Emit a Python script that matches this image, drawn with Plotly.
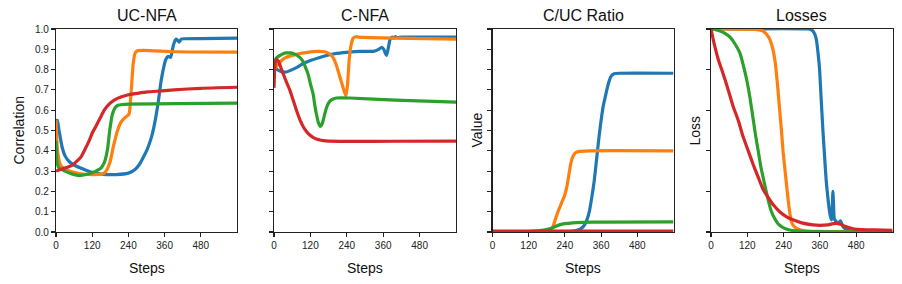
import plotly.graph_objects as go

COLORS = ["#1f77b4", "#ff7f0e", "#2ca02c", "#d62728"]
TITLES = ["UC-NFA", "C-NFA", "C/UC Ratio", "Losses"]
X_TICKS = [0, 120, 240, 360, 480]

# ---- UC-NFA ----
uc_blue_x = [0, 4, 10, 20, 30, 45, 60, 90, 116, 150, 200, 240, 260, 275, 290, 303, 315, 325, 338, 349, 364, 372, 380, 389, 397, 403, 408, 415, 425, 480, 600]
uc_blue_y = [0.55, 0.55, 0.50, 0.42, 0.375, 0.345, 0.33, 0.31, 0.295, 0.285, 0.283, 0.29, 0.305, 0.33, 0.37, 0.41, 0.46, 0.52, 0.63, 0.75, 0.85, 0.865, 0.86, 0.92, 0.95, 0.945, 0.935, 0.95, 0.952, 0.953, 0.955]
uc_orange_x = [0, 5, 15, 30, 50, 80, 120, 150, 160, 170, 180, 190, 204, 215, 226, 242, 247, 251, 256, 262, 270, 290, 400, 600]
uc_orange_y = [0.55, 0.40, 0.33, 0.31, 0.298, 0.287, 0.283, 0.285, 0.29, 0.31, 0.35, 0.42, 0.50, 0.54, 0.56, 0.58, 0.65, 0.73, 0.83, 0.88, 0.893, 0.895, 0.888, 0.886]
uc_green_x = [0, 4, 10, 30, 55, 77, 100, 120, 132, 145, 154, 162, 171, 178, 187, 195, 204, 220, 240, 400, 600]
uc_green_y = [0.45, 0.34, 0.315, 0.30, 0.285, 0.278, 0.283, 0.292, 0.30, 0.31, 0.325, 0.35, 0.41, 0.50, 0.58, 0.61, 0.623, 0.628, 0.63, 0.632, 0.635]
uc_red_x = [0, 20, 40, 55, 70, 83, 97, 110, 121, 132, 146, 160, 176, 193, 215, 237, 270, 303, 350, 391, 480, 600]
uc_red_y = [0.30, 0.31, 0.32, 0.33, 0.35, 0.37, 0.41, 0.45, 0.49, 0.52, 0.56, 0.60, 0.63, 0.65, 0.665, 0.675, 0.683, 0.69, 0.695, 0.70, 0.708, 0.713]

# ---- C-NFA ----
c_blue_x = [0, 10, 25, 40, 60, 80, 96, 120, 151, 180, 206, 240, 283, 327, 345, 355, 362, 367, 371, 376, 383, 390, 395, 400, 405, 420, 480, 600]
c_blue_y = [0.82, 0.80, 0.79, 0.788, 0.80, 0.815, 0.83, 0.845, 0.86, 0.872, 0.88, 0.885, 0.89, 0.89, 0.90, 0.91, 0.90, 0.88, 0.87, 0.90, 0.95, 0.96, 0.955, 0.962, 0.958, 0.96, 0.96, 0.96]
c_orange_x = [0, 10, 25, 40, 60, 80, 110, 140, 167, 180, 190, 198, 206, 214, 222, 230, 237, 242, 248, 254, 261, 270, 280, 400, 600]
c_orange_y = [0.80, 0.82, 0.845, 0.86, 0.87, 0.878, 0.885, 0.89, 0.888, 0.88, 0.87, 0.85, 0.82, 0.78, 0.74, 0.70, 0.67, 0.72, 0.85, 0.92, 0.955, 0.962, 0.96, 0.955, 0.95]
c_green_x = [0, 10, 20, 30, 40, 55, 70, 85, 96, 104, 112, 120, 129, 135, 140, 146, 153, 158, 163, 167, 175, 184, 195, 206, 250, 400, 600]
c_green_y = [0.84, 0.86, 0.87, 0.878, 0.882, 0.882, 0.875, 0.86, 0.84, 0.81, 0.78, 0.73, 0.68, 0.62, 0.58, 0.54, 0.52, 0.53, 0.555, 0.58, 0.62, 0.645, 0.655, 0.66, 0.66, 0.65, 0.64]
c_red_x = [0, 3, 7, 15, 25, 38, 52, 63, 74, 85, 96, 107, 118, 130, 140, 155, 170, 240, 400, 600]
c_red_y = [0.71, 0.82, 0.85, 0.84, 0.80, 0.75, 0.70, 0.65, 0.60, 0.555, 0.52, 0.495, 0.478, 0.465, 0.458, 0.452, 0.449, 0.446, 0.447, 0.448]

# ---- C/UC Ratio ----
r_blue_x = [0, 240, 270, 288, 298, 305, 313, 321, 329, 337, 343, 348, 354, 360, 367, 373, 379, 386, 392, 398, 403, 420, 600]
r_blue_y = [0.0, 0.001, 0.004, 0.012, 0.022, 0.035, 0.06, 0.10, 0.17, 0.25, 0.33, 0.40, 0.48, 0.55, 0.62, 0.66, 0.70, 0.74, 0.765, 0.775, 0.78, 0.782, 0.782]
r_orange_x = [0, 150, 180, 190, 200, 208, 217, 228, 239, 246, 253, 260, 266, 275, 288, 320, 600]
r_orange_y = [0.0, 0.001, 0.004, 0.01, 0.025, 0.06, 0.10, 0.14, 0.18, 0.22, 0.28, 0.34, 0.37, 0.39, 0.397, 0.40, 0.40]
r_green_x = [0, 100, 130, 150, 170, 190, 205, 222, 240, 266, 300, 360, 600]
r_green_y = [0.0, 0.001, 0.003, 0.006, 0.01, 0.016, 0.025, 0.035, 0.041, 0.045, 0.047, 0.049, 0.05]
r_red_x = [0, 600]
r_red_y = [0.005, 0.005]

# ---- Losses ----
l_blue_x = [0, 320, 330, 337, 343, 348, 354, 359, 364, 370, 376, 381, 387, 392, 396, 399, 401, 403, 405, 407, 409, 412, 415, 420, 425, 428, 431, 435, 440, 450, 465, 480, 600]
l_blue_y = [1.0, 1.0, 0.997, 0.99, 0.975, 0.95, 0.88, 0.80, 0.66, 0.50, 0.36, 0.25, 0.16, 0.10, 0.07, 0.06, 0.12, 0.20, 0.14, 0.07, 0.06, 0.055, 0.05, 0.045, 0.05, 0.055, 0.045, 0.03, 0.02, 0.01, 0.005, 0.003, 0.002]
l_orange_x = [0, 140, 160, 172, 183, 194, 203, 211, 219, 227, 233, 238, 245, 252, 259, 266, 273, 280, 300, 320, 600]
l_orange_y = [1.0, 0.998, 0.995, 0.99, 0.975, 0.95, 0.91, 0.85, 0.74, 0.60, 0.50, 0.40, 0.30, 0.20, 0.11, 0.05, 0.03, 0.02, 0.008, 0.004, 0.001]
l_green_x = [0, 15, 30, 45, 63, 80, 96, 107, 118, 129, 140, 148, 156, 165, 175, 184, 192, 200, 211, 222, 240, 260, 300, 600]
l_green_y = [1.0, 0.997, 0.99, 0.98, 0.96, 0.925, 0.88, 0.82, 0.75, 0.66, 0.55, 0.47, 0.40, 0.32, 0.25, 0.19, 0.14, 0.10, 0.065, 0.04, 0.02, 0.01, 0.003, 0.001]
l_red_x = [0, 10, 24, 40, 57, 73, 90, 106, 123, 140, 156, 172, 189, 208, 227, 250, 271, 300, 337, 360, 385, 400, 414, 428, 440, 455, 470, 500, 540, 600]
l_red_y = [1.0, 0.93, 0.85, 0.78, 0.70, 0.62, 0.55, 0.47, 0.40, 0.33, 0.27, 0.21, 0.17, 0.13, 0.10, 0.075, 0.06, 0.045, 0.035, 0.033, 0.035, 0.04, 0.042, 0.038, 0.03, 0.022, 0.016, 0.012, 0.01, 0.008]

panels = [
    [(uc_blue_x, uc_blue_y), (uc_orange_x, uc_orange_y), (uc_green_x, uc_green_y), (uc_red_x, uc_red_y)],
    [(c_blue_x, c_blue_y), (c_orange_x, c_orange_y), (c_green_x, c_green_y), (c_red_x, c_red_y)],
    [(r_blue_x, r_blue_y), (r_orange_x, r_orange_y), (r_green_x, r_green_y), (r_red_x, r_red_y)],
    [(l_blue_x, l_blue_y), (l_orange_x, l_orange_y), (l_green_x, l_green_y), (l_red_x, l_red_y)],
]

W, H = 902, 284
x_px = [(56, 237), (274, 456), (492.5, 673.5), (711, 892.5)]
y_top, y_bot = 29, 232
ydom = [1 - y_bot / H, 1 - y_top / H]

FONT = "Liberation Sans, Arial, Helvetica, sans-serif"
fig = go.Figure()

for i, series in enumerate(panels):
    ax = "" if i == 0 else str(i + 1)
    for j, (xs, ys) in enumerate(series):
        fig.add_trace(go.Scatter(x=xs, y=ys, mode="lines",
                                 line=dict(color=COLORS[j], width=3.2, shape="spline", smoothing=0.5),
                                 xaxis="x" + ax, yaxis="y" + ax, showlegend=False,
                                 hoverinfo="skip"))
    dom = [x_px[i][0] / W, x_px[i][1] / W]
    common = dict(showline=True, linecolor="#222", linewidth=1.2, mirror=True,
                  ticks="outside", ticklen=4, tickwidth=1.1, tickcolor="#222",
                  showgrid=False, zeroline=False, automargin=False,
                  tickfont=dict(family=FONT, size=10, color="#222"))
    fig.update_layout(**{
        "xaxis" + ax: dict(domain=dom, range=[0, 600], tickvals=X_TICKS,
                           anchor="y" + ax, **common),
        "yaxis" + ax: dict(domain=ydom, range=[0, 1],
                           dtick=0.2 if i == 3 else 0.1, tickformat=".1f",
                           showticklabels=(i == 0), anchor="x" + ax, **common),
    })
    cx = (dom[0] + dom[1]) / 2
    fig.add_annotation(text=TITLES[i], x=cx, y=1 - 15 / H, xref="paper", yref="paper",
                       xanchor="center", yanchor="middle",
                       showarrow=False, font=dict(family=FONT, size=16, color="#111"))
    fig.add_annotation(text="Steps", x=cx, y=1 - 268 / H, xref="paper", yref="paper",
                       xanchor="center", yanchor="middle",
                       showarrow=False, font=dict(family=FONT, size=14, color="#111"))

ylabels = [("Correlation", 18), ("Value", 476), ("Loss", 694)]
for txt, px in ylabels:
    fig.add_annotation(text=txt, x=px / W, y=(ydom[0] + ydom[1]) / 2, xref="paper", yref="paper",
                       xanchor="center", yanchor="middle",
                       showarrow=False, textangle=-90, font=dict(family=FONT, size=14, color="#111"))

fig.update_layout(width=W, height=H, margin=dict(l=0, r=0, t=0, b=0),
                  paper_bgcolor="white", plot_bgcolor="white")
fig.write_html("out.html", config={"displayModeBar": False, "staticPlot": True},
               post_script="document.body.style.margin='0';document.body.style.overflow='hidden';")
